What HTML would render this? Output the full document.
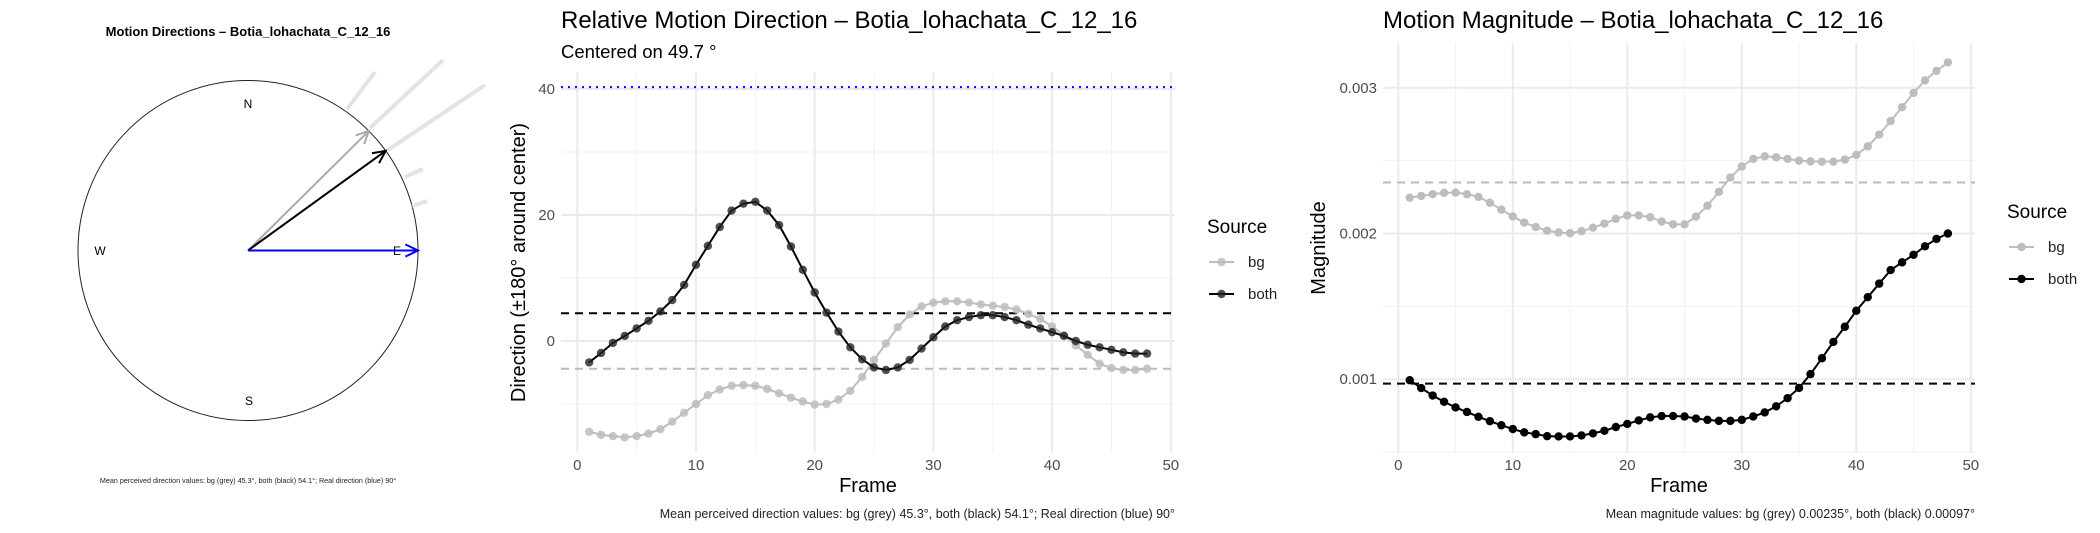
<!DOCTYPE html>
<html><head><meta charset="utf-8"><style>
html,body{margin:0;padding:0;background:#fff;}
svg{display:block;font-family:"Liberation Sans",sans-serif;}
</style></head><body>
<svg id="fig" width="2100" height="533" viewBox="0 0 2100 533" xmlns="http://www.w3.org/2000/svg">
<rect width="2100" height="533" fill="#fff"/>
<g id="p1">
 <text x="248" y="36" text-anchor="middle" font-size="13" font-weight="bold">Motion Directions – Botia_lohachata_C_12_16</text>
 <ellipse cx="248" cy="250.5" rx="170" ry="170" fill="none" stroke="#222" stroke-width="1"/>
 <g stroke="#ddd" stroke-width="4" opacity="0.8">
  <line x1="347" y1="109" x2="375" y2="72"/>
  <line x1="370" y1="128" x2="443" y2="60"/>
  <line x1="388" y1="150" x2="485" y2="85"/>
  <line x1="405" y1="177" x2="423" y2="169"/>
  <line x1="412" y1="206" x2="427" y2="201"/>
 </g>
 <text x="248" y="108" text-anchor="middle" font-size="12">N</text>
 <text x="249" y="405" text-anchor="middle" font-size="12">S</text>
 <text x="100" y="255" text-anchor="middle" font-size="12">W</text>
 <text x="397" y="255" text-anchor="middle" font-size="12">E</text>
 <g id="arrows"></g>
 <text x="248" y="483" text-anchor="middle" font-size="7.2" fill="#222">Mean perceived direction values: bg (grey) 45.3°, both (black) 54.1°; Real direction (blue) 90°</text>
</g>
<g id="p2"></g>
<g id="p3"></g>
</svg>
<script>
const frames = [];
for (let i = 1; i <= 48; i++) frames.push(i);
const dirBoth = [-3.4,-1.9,-0.3,0.8,2.0,3.2,4.7,6.5,8.9,12.1,15.1,18.1,20.7,21.8,22.1,20.7,18.4,15.0,11.3,7.7,4.5,1.5,-1.0,-2.9,-4.2,-4.6,-4.2,-3.0,-1.2,0.6,2.3,3.3,3.8,4.1,4.1,3.8,3.3,2.6,2.0,1.4,0.8,0.0,-0.6,-1.0,-1.4,-1.8,-2.0,-2.0];
const dirBg = [-14.4,-14.9,-15.1,-15.3,-15.1,-14.7,-14.0,-12.8,-11.4,-10.0,-8.6,-7.7,-7.1,-7.0,-7.1,-7.6,-8.3,-9.0,-9.6,-10.1,-10.0,-9.3,-7.9,-5.7,-3.0,-0.4,2.2,4.2,5.5,6.1,6.3,6.3,6.1,5.8,5.6,5.4,5.0,4.3,3.5,2.3,0.9,-0.7,-2.2,-3.6,-4.3,-4.6,-4.6,-4.4];
const dirMeans = [4.4, -4.4];
const dirReal = [40.3];
const dirYTicks = [0, 20, 40];
const dirYMinor = [-10, 10, 30];
const xTicks = [0, 10, 20, 30, 40, 50];
const xMinor = [5, 15, 25, 35, 45];
const magBg = [0.002246,0.002258,0.00227,0.002279,0.002281,0.00227,0.002251,0.002211,0.002164,0.002117,0.002075,0.002044,0.002019,0.002007,0.002002,0.002016,0.00204,0.002068,0.002101,0.002124,0.002124,0.002112,0.002082,0.002063,0.002063,0.002116,0.002191,0.002286,0.002384,0.00246,0.002512,0.00253,0.002523,0.002512,0.0025,0.002495,0.002493,0.002493,0.002507,0.00254,0.002598,0.002679,0.002772,0.002867,0.002965,0.003051,0.003116,0.003174];
const magBoth = [0.000993,0.000939,0.000888,0.000845,0.000806,0.000775,0.000742,0.000712,0.000684,0.000658,0.000635,0.000623,0.000609,0.000607,0.000607,0.000614,0.000628,0.000646,0.000672,0.000693,0.000717,0.000738,0.000747,0.000747,0.000744,0.00073,0.000721,0.000714,0.000714,0.000721,0.000744,0.000772,0.000814,0.00087,0.00094,0.001035,0.001144,0.001256,0.00136,0.00147,0.001563,0.001656,0.001749,0.001802,0.001854,0.001912,0.001963,0.002];
const magMeans = [0.00235, 0.00097];
const magYTicks = [0.001, 0.002, 0.003];
const magYMinor = [0.0005, 0.0015, 0.0025];
const compassAngles = [45.3, 54.1, 90];
const NS = "http://www.w3.org/2000/svg";
function mk(parent, tag, attrs, text) {
  const e = document.createElementNS(NS, tag);
  for (const k in attrs) e.setAttribute(k, attrs[k]);
  if (text !== undefined) e.textContent = text;
  parent.appendChild(e);
  return e;
}
// compass arrows
(function(){
  const g = document.getElementById('arrows');
  const cx = 248, cy = 250.5, r = 170;
  const cols = ['#aaaaaa', '#000000', '#0000ff'];
  const names = ['bg-arrow', 'both-arrow', 'real-arrow'];
  compassAngles.forEach((a, i) => {
    const t = a * Math.PI / 180;
    const ex = cx + r * Math.sin(t), ey = cy - r * Math.cos(t);
    const ln = mk(g, 'line', {x1: cx, y1: cy, x2: ex, y2: ey, stroke: cols[i], 'stroke-width': 2});
    
    
    const ang = Math.atan2(ey - cy, ex - cx);
    const hl = 14;
    const p1x = ex - hl * Math.cos(ang - 0.45), p1y = ey - hl * Math.sin(ang - 0.45);
    const p2x = ex - hl * Math.cos(ang + 0.45), p2y = ey - hl * Math.sin(ang + 0.45);
    const hd = mk(g, 'polyline', {points: `${p1x},${p1y} ${ex},${ey} ${p2x},${p2y}`, fill: 'none', stroke: cols[i], 'stroke-width': 2});
    
    
  });
})();
function panel(cfg) {
  const g = document.getElementById(cfg.id);
  const X = v => cfg.x0 + v * cfg.xs;
  const Y = v => cfg.y0 - (v - cfg.yb) * cfg.ys;
  cfg.yMinor.forEach(v => { const l = mk(g, 'line', {x1: cfg.L, x2: cfg.R, y1: Y(v), y2: Y(v), stroke: '#f2f2f2', 'stroke-width': 1});
      });
  xMinor.forEach(v => { const l = mk(g, 'line', {x1: X(v), x2: X(v), y1: cfg.T, y2: cfg.B, stroke: '#f2f2f2', 'stroke-width': 1});
      });
  cfg.yTicks.forEach((v, i) => {
    const l = mk(g, 'line', {x1: cfg.L, x2: cfg.R, y1: Y(v), y2: Y(v), stroke: '#ebebeb', 'stroke-width': 2});
     
    const t = mk(g, 'text', {x: cfg.L - 6, y: Y(v) + 5, 'text-anchor': 'end', 'font-size': 15, fill: '#4d4d4d'}, cfg.yLabels[i]);
     
  });
  xTicks.forEach(v => {
    const l = mk(g, 'line', {x1: X(v), x2: X(v), y1: cfg.T, y2: cfg.B, stroke: '#ebebeb', 'stroke-width': 2});
     
    const t = mk(g, 'text', {x: X(v), y: cfg.B + 17, 'text-anchor': 'middle', 'font-size': 15, fill: '#4d4d4d'}, String(v));
     
  });
  (cfg.refs || []).forEach(r => {
    const l = mk(g, 'line', {x1: cfg.L, x2: cfg.R, y1: Y(r.v), y2: Y(r.v), stroke: r.c, 'stroke-width': 2, 'stroke-dasharray': r.d});
     
  });
  cfg.series.forEach(s => {
    const pts = frames.map((f, i) => X(f) + ',' + Y(s.vals[i])).join(' ');
    const pl = mk(g, 'polyline', {points: pts, fill: 'none', stroke: s.line, 'stroke-width': 2});
     
    frames.forEach((f, i) => {
      const c = mk(g, 'circle', {cx: X(f), cy: Y(s.vals[i]), r: 4.2, fill: s.pt, 'fill-opacity': s.op});
       
    });
  });
  let t = mk(g, 'text', {x: cfg.L, y: cfg.titleY, 'font-size': 24}, cfg.title);
   
  if (cfg.sub) { t = mk(g, 'text', {x: cfg.L, y: cfg.titleY + 30, 'font-size': 18.5}, cfg.sub);
      }
  t = mk(g, 'text', {x: (cfg.L + cfg.R) / 2, y: cfg.B + 39, 'text-anchor': 'middle', 'font-size': 20}, 'Frame');
   
  const my = (cfg.T + cfg.B) / 2;
  t = mk(g, 'text', {x: cfg.ytx, y: my, 'text-anchor': 'middle', 'font-size': 20, transform: `rotate(-90 ${cfg.ytx} ${my})`}, cfg.yTitle);
   
  t = mk(g, 'text', {x: cfg.R, y: 518, 'text-anchor': 'end', 'font-size': 12.5, fill: '#222'}, cfg.caption);
   
  const lx = cfg.lx, ly = cfg.ly;
  t = mk(g, 'text', {x: lx, y: ly, 'font-size': 19}, 'Source');
   
  cfg.series.forEach((s, i) => {
    const yy = ly + 29 + i * 32;
    const l = mk(g, 'line', {x1: lx + 2, x2: lx + 27, y1: yy, y2: yy, stroke: s.line, 'stroke-width': 2});
     
    const c = mk(g, 'circle', {cx: lx + 14.5, cy: yy, r: 4.2, fill: s.pt, 'fill-opacity': s.op});
     
    const tt = mk(g, 'text', {x: lx + 41, y: yy + 5, 'font-size': 15, fill: '#222'}, s.name);
     
  });
}
panel({id: 'p2', x0: 577.3, xs: 11.87, y0: 341, yb: 0, ys: 6.3, L: 561, R: 1175, T: 72, B: 453,
  yTicks: dirYTicks, yLabels: dirYTicks.map(String), yMinor: dirYMinor,
  refs: [{v: dirReal[0], c: '#0000ff', d: '2 5', n: 'real-direction-line'},
         {v: dirMeans[0], c: '#000', d: '8 6', n: 'both-mean-line'},
         {v: dirMeans[1], c: '#bbbbbb', d: '8 6', n: 'bg-mean-line'}],
  series: [{name: 'bg', vals: dirBg, line: '#bdbdbd', pt: '#bdbdbd', op: 0.85},
           {name: 'both', vals: dirBoth, line: '#000', pt: '#222', op: 0.8}],
  title: 'Relative Motion Direction – Botia_lohachata_C_12_16', sub: 'Centered on  49.7 °', titleY: 28,
  yTitle: 'Direction (±180° around center)', ytx: 525,
  caption: 'Mean perceived direction values: bg (grey) 45.3°, both (black) 54.1°; Real direction (blue) 90°',
  lx: 1207, ly: 233});
panel({id: 'p3', x0: 1398.3, xs: 11.45, y0: 379.2, yb: 0.001, ys: 145700, L: 1383, R: 1975, T: 43, B: 453,
  yTicks: magYTicks, yLabels: ['0.001', '0.002', '0.003'], yMinor: magYMinor,
  refs: [{v: magMeans[0], c: '#bbbbbb', d: '8 6', n: 'bg-mean-line'},
         {v: magMeans[1], c: '#000', d: '8 6', n: 'both-mean-line'}],
  series: [{name: 'bg', vals: magBg, line: '#bdbdbd', pt: '#bdbdbd', op: 1},
           {name: 'both', vals: magBoth, line: '#000', pt: '#000', op: 1}],
  title: 'Motion Magnitude – Botia_lohachata_C_12_16', titleY: 28,
  yTitle: 'Magnitude', ytx: 1325,
  caption: 'Mean magnitude values: bg (grey) 0.00235°, both (black) 0.00097°',
  lx: 2007, ly: 218});
</script>
</body></html>
